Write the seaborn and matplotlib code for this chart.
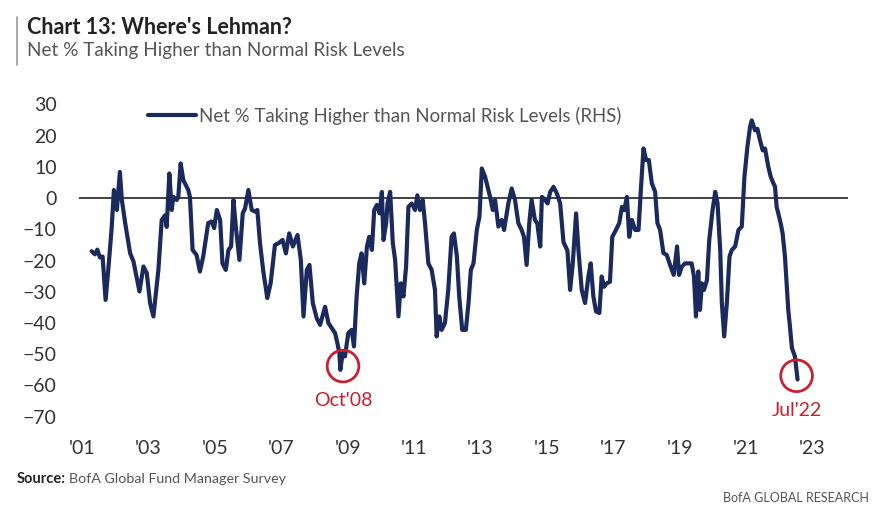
import numpy as np
import pandas as pd
import matplotlib
matplotlib.use("Agg")
import matplotlib.pyplot as plt
import seaborn as sns

# Net % of fund managers taking higher than normal risk
years = [2001.29, 2001.39, 2001.46, 2001.54, 2001.62, 2001.71, 2001.79, 2001.89, 2001.96, 2002.05,
         2002.14, 2002.20, 2002.30, 2002.45, 2002.55, 2002.73, 2002.85, 2002.95, 2003.05, 2003.15,
         2003.30, 2003.40, 2003.50, 2003.55, 2003.63, 2003.70, 2003.75, 2003.85, 2003.90, 2003.97,
         2004.05, 2004.20, 2004.25, 2004.33, 2004.45, 2004.55, 2004.65, 2004.80, 2004.90, 2004.98,
         2005.06, 2005.16, 2005.23, 2005.33, 2005.41, 2005.49, 2005.56, 2005.64, 2005.74, 2005.84,
         2005.91, 2006.01, 2006.11, 2006.21, 2006.28, 2006.36, 2006.46, 2006.58, 2006.68, 2006.81,
         2006.91, 2007.04, 2007.14, 2007.24, 2007.35, 2007.49, 2007.59, 2007.67, 2007.77, 2007.85,
         2007.95, 2008.07, 2008.17, 2008.32, 2008.42, 2008.52, 2008.62, 2008.69, 2008.75, 2008.78,
         2008.85, 2008.92, 2009.02, 2009.12, 2009.19, 2009.27, 2009.35, 2009.42, 2009.50, 2009.58,
         2009.65, 2009.73, 2009.80, 2009.88, 2009.96, 2010.03, 2010.08, 2010.16, 2010.20, 2010.28,
         2010.36, 2010.43, 2010.53, 2010.60, 2010.68, 2010.76, 2010.83, 2010.93, 2011.03, 2011.10,
         2011.18, 2011.26, 2011.33, 2011.43, 2011.53, 2011.63, 2011.68, 2011.76, 2011.83, 2011.93,
         2012.03, 2012.13, 2012.20, 2012.29, 2012.36, 2012.45, 2012.56, 2012.64, 2012.71, 2012.79,
         2012.89, 2012.97, 2013.04, 2013.14, 2013.24, 2013.29, 2013.37, 2013.44, 2013.54, 2013.64,
         2013.71, 2013.84, 2013.94, 2014.04, 2014.14, 2014.24, 2014.31, 2014.39, 2014.47, 2014.54,
         2014.64, 2014.71, 2014.80, 2014.85, 2014.95, 2015.02, 2015.10, 2015.20, 2015.30, 2015.40,
         2015.50, 2015.62, 2015.70, 2015.78, 2015.88, 2015.95, 2016.05, 2016.15, 2016.25, 2016.32,
         2016.40, 2016.48, 2016.58, 2016.65, 2016.72, 2016.80, 2016.90, 2016.97, 2017.08, 2017.18,
         2017.26, 2017.33, 2017.41, 2017.48, 2017.56, 2017.66, 2017.76, 2017.83, 2017.91, 2017.99,
         2018.07, 2018.16, 2018.26, 2018.33, 2018.41, 2018.51, 2018.61, 2018.71, 2018.82, 2018.92,
         2018.98, 2019.06, 2019.16, 2019.26, 2019.36, 2019.43, 2019.49, 2019.56, 2019.61, 2019.67,
         2019.73, 2019.82, 2019.89, 2019.99, 2020.07, 2020.14, 2020.22, 2020.27, 2020.34, 2020.42,
         2020.50, 2020.57, 2020.67, 2020.77, 2020.87, 2020.95, 2021.04, 2021.12, 2021.17, 2021.27,
         2021.34, 2021.42, 2021.50, 2021.57, 2021.67, 2021.74, 2021.82, 2021.87, 2021.92, 2021.97,
         2022.04, 2022.10, 2022.17, 2022.22, 2022.27, 2022.32, 2022.38, 2022.47, 2022.55]
net_risk = [-17, -18, -16.5, -19, -18.7, -32.6, -23, -10, 2.6, -3.8,
            8.4, -0.6, -8, -17.7, -20.3, -29.9, -21.9, -24, -33.6, -37.9,
            -23, -7, -5.5, -9.2, 7.9, -3.8, 0.4, -0.6, 0.4, 11.1,
            5.8, 2.6, 0.4, -16.6, -18.2, -23.5, -18.7, -8, -7.5, -9.6,
            -3.8, -7, -20.9, -23, -16.6, -15.5, -0.6, -10, -19.8, -4.9,
            -3.3, 2.6, -3.8, -4.3, -3.8, -14.4, -23.5, -32, -27.3, -15,
            -14.5, -13.4, -17.7, -11.3, -15.5, -11.8, -19.8, -37.9, -23, -21.4,
            -33.6, -38.5, -40.6, -34.8, -40, -41.6, -43.2, -46.4, -49.6, -55,
            -49.6, -50.7, -43.2, -42.2, -47.5, -31.5, -20.8, -17.7, -27.3, -15.5,
            -12.4, -16.6, -3.8, -2.2, -4.9, 2, -13.4, -8, -1.7, 2,
            -14.4, -19.8, -37.9, -27.3, -31.5, -21.9, -2.8, -1.7, -3.8, 0.9,
            -3.8, -0.6, -8, -20.9, -23, -29.4, -44.3, -37.9, -42.2, -40,
            -29.4, -12.4, -11.3, -18.7, -31.5, -42.2, -42.2, -33.6, -23, -20.9,
            -10.2, -5.9, 9.5, 6.8, 2.6, 0.4, -3.8, -0.6, -9.1, -7,
            -10.2, -1.7, 3.1, -0.6, -8, -10.2, -12.4, -21.4, -8, -0.6,
            -7, -8, -15.5, 0.4, -0.6, -1.7, 2, 3.6, 1.5, -1.7,
            -14.1, -16.8, -29.4, -20.9, -4.9, -16.6, -29.4, -33.6, -25.1, -20.9,
            -31.5, -36.3, -36.8, -25.1, -28.4, -27.3, -26.8, -12.4, -10.2, -8,
            -2.8, -3.8, 0.4, -12.4, -7, -10.2, -10.2, 2.6, 15.9, 12.2,
            12.2, 4.8, 2, -8, -10.2, -17.6, -18.2, -21.4, -24.6, -15.5,
            -24.6, -22, -20.9, -20.9, -20.9, -25.1, -37.9, -23.5, -35.8, -27.3,
            -29.4, -26.3, -13.4, -3.8, 2, -1.7, -16.6, -33.6, -44.3, -33.6,
            -18.7, -16.6, -15.5, -10.2, -9.1, 6.9, 16.5, 22.9, 24.9, 21.7,
            22.2, 18.5, 15.3, 15.9, 10, 6.9, 4.8, 3.7, -2.8, -4.9,
            -8, -11.3, -18.7, -27.3, -35.8, -41.1, -48, -50.7, -58.1]

tick_years = [2001, 2003, 2005, 2007, 2009, 2011, 2013, 2015, 2017, 2019, 2021, 2023]
tick_labels = ["'01", "'03", "'05", "'07", "'09", "'11", "'13", "'15", "'17", "'19", "'21", "'23"]
y_ticks = [30, 20, 10, 0, -10, -20, -30, -40, -50, -60, -70]
callouts = ["Oct'08", "Jul'22"]

df = pd.DataFrame({"year": years, "net": net_risk})

sns.set_theme(style="white")
plt.rcParams['font.family'] = ['Lato', 'DejaVu Sans']

navy = "#1b2a5c"
red = "#c8202f"
grey = "#555555"

fig = plt.figure(figsize=(8.88, 5.17), dpi=100)
ax = fig.add_axes([0.089, 0.182, 0.866, 0.628])

ax.axhline(0, color="#222222", lw=1.2, zorder=1)
sns.lineplot(data=df, x="year", y="net", ax=ax, color=navy, lw=3.0, estimator=None,
             label="Net % Taking Higher than Normal Risk Levels (RHS)", zorder=3)

# red circles on the two troughs
crisis = df[(df.year > 2008) & (df.year < 2009.5)]
low08 = crisis.loc[crisis.net.idxmin()]
last = df.iloc[-1]
for pt, txt, dx in [(low08, callouts[0], 0.08), (last, callouts[1], -0.03)]:
    cx, cy = pt.year + dx, pt.net + 1.2
    ax.scatter([cx], [cy], s=520, facecolors="none", edgecolors=red, linewidths=2.0, zorder=4)
    ax.annotate(txt, xy=(cx, cy), xytext=(0, -25), textcoords="offset points",
                ha="center", va="center", color=red, fontsize=14)

ax.set_xlim(2000.91, 2024.07)
ax.set_ylim(-72, 32)
ax.set_xticks(tick_years)
ax.set_xticklabels(tick_labels)
ax.set_yticks(y_ticks)
ax.set_xlabel("")
ax.set_ylabel("")
ax.tick_params(axis="both", length=0, labelsize=14, colors="#333333")
ax.tick_params(axis="y", pad=16)
ax.tick_params(axis="x", pad=12)
for s in ax.spines.values():
    s.set_visible(False)
ax.grid(False)

leg = ax.legend(loc="upper left", bbox_to_anchor=(0.068, 1.025), frameon=False,
                fontsize=13.4, handlelength=2.6, handletextpad=0.15)
for t in leg.get_texts():
    t.set_color(grey)

# header, footer
fig.add_artist(plt.Line2D([0.019, 0.019], [0.875, 0.968], color="#999999", lw=1.2))
fig.text(0.030, 0.967, "Chart 13: Where's Lehman?", fontsize=15.5, fontweight="bold",
         color="#222222", va="top")
fig.text(0.030, 0.918, "Net % Taking Higher than Normal Risk Levels", fontsize=13.6,
         color=grey, va="top")
fig.text(0.019, 0.073, "Source:", fontsize=10.5, fontweight="bold", color="#222222", va="center")
fig.text(0.078, 0.073, "BofA Global Fund Manager Survey", fontsize=10.3, color=grey, va="center")
fig.text(0.978, 0.037, "BofA GLOBAL RESEARCH", fontsize=9, color=grey, va="center", ha="right")

fig.savefig("out.png", dpi=100)
